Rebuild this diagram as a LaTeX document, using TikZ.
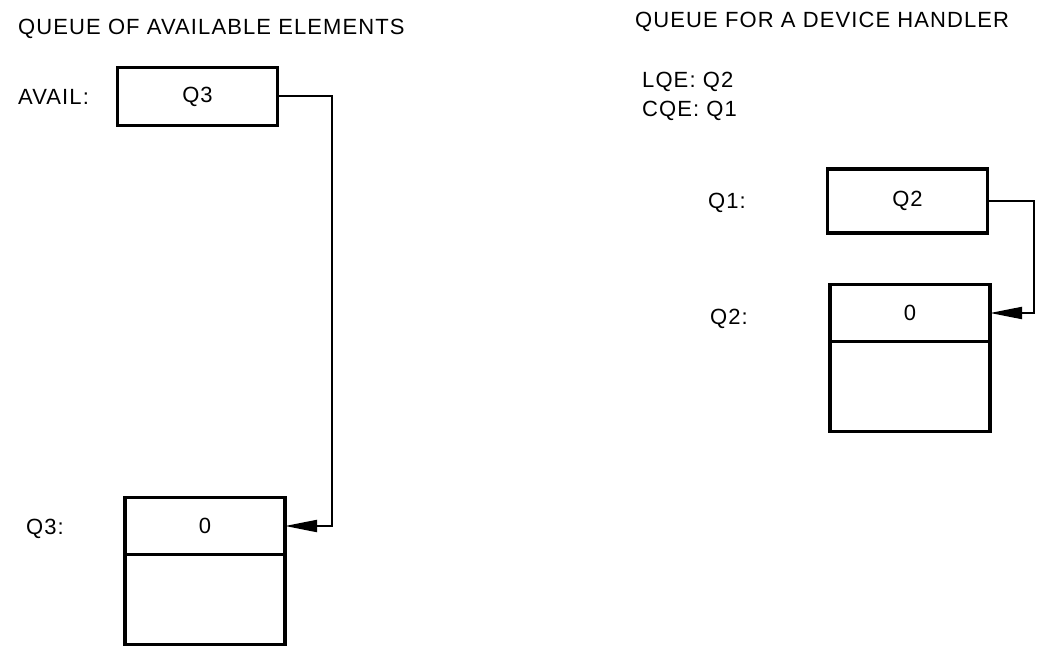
\documentclass[tikz,border=0pt]{standalone}
\usepackage{fontspec}
\setmainfont{Liberation Sans}[LetterSpace=5]
\usetikzlibrary{arrows.meta, positioning}

\begin{document}
\begin{tikzpicture}[x=1pt, y=-1pt, font=\fontsize{22}{26}\selectfont,
  cell/.style={draw, line width=3.5pt, minimum width=160pt, inner sep=0pt, outer sep=0pt},
  link/.style={line width=2pt, -{Triangle[length=32pt, width=12pt]}},
  lbl/.style={anchor=west, inner sep=0pt}]
  \useasboundingbox (0,0) rectangle (1044,647);
  % left side: free list
  \node[lbl] (titleL) at (18,29) {QUEUE OF AVAILABLE ELEMENTS};
  \node[lbl] (availlbl) at (18,97) {AVAIL:};
  \node[cell, minimum height=58pt] (avail) at (197.5,96.5) {Q3};
  \node[lbl] (q3lbl) at (26,529) {Q3:};
  \node[cell, minimum height=57pt] (q3) at (205,526) {0};
  \node[cell, minimum height=90pt, below=0pt of q3] (q3b) {};
  \draw[link] (avail.east) -- ++(54,0) |- (q3.east);
  % right side: device queue
  \node[lbl] (titleR) at (635,22) {QUEUE FOR A DEVICE HANDLER};
  \node[lbl] (lqe) at (642,82) {LQE: Q2};
  \node[lbl] (cqe) at (642,111) {CQE: Q1};
  \node[lbl] (q1lbl) at (708,203) {Q1:};
  \node[cell, minimum height=64pt] (q1) at (907.5,201) {Q2};
  \node[lbl] (q2lbl) at (710,319) {Q2:};
  \node[cell, minimum height=57pt] (q2) at (910,313) {0};
  \node[cell, minimum height=90pt, below=0pt of q2] (q2b) {};
  \draw[link] (q1.east) -- ++(46,0) |- (q2.east);
\end{tikzpicture}
\end{document}
